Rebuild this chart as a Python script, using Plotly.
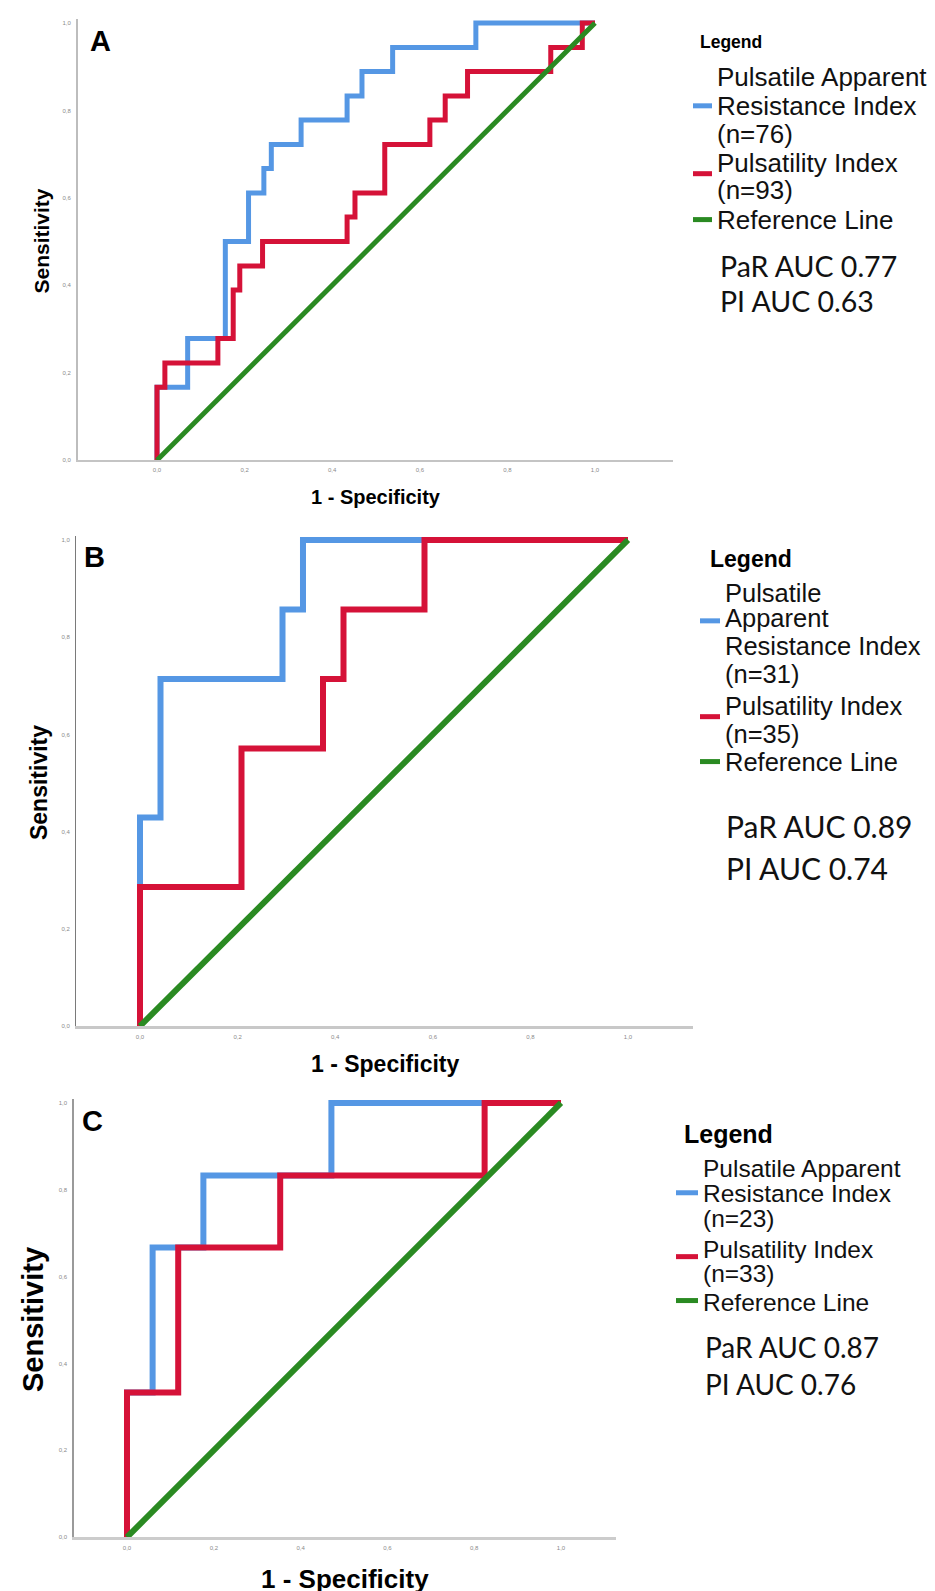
import plotly.graph_objects as go

W, H = 935, 1591

# ---------------- data ----------------
tick_vals = [0.0, 0.2, 0.4, 0.6, 0.8, 1.0]
tick_text = ["0,0", "0,2", "0,4", "0,6", "0,8", "1,0"]

# Panel A  (FPR at which each sensitivity jump happens, sensitivity after the jump)
a_par_fpr = [0.0, 0.0, 0.070, 0.156, 0.209, 0.244, 0.261, 0.329, 0.434, 0.468, 0.538, 0.728, 1.0]
a_par_tpr = [0.0, 0.167, 0.278, 0.500, 0.611, 0.667, 0.722, 0.778, 0.833, 0.889, 0.944, 1.0, 1.0]
a_pi_fpr = [0.0, 0.0, 0.018, 0.139, 0.174, 0.189, 0.241, 0.434, 0.452, 0.520, 0.623, 0.658, 0.709, 0.899, 0.971, 1.0]
a_pi_tpr = [0.0, 0.167, 0.222, 0.278, 0.389, 0.444, 0.500, 0.556, 0.611, 0.722, 0.778, 0.833, 0.889, 0.944, 1.0, 1.0]

# Panel B
b_par_fpr = [0.0, 0.0, 0.042, 0.292, 0.334, 1.0]
b_par_tpr = [0.0, 0.429, 0.714, 0.857, 1.0, 1.0]
b_pi_fpr = [0.0, 0.0, 0.208, 0.375, 0.417, 0.583, 1.0]
b_pi_tpr = [0.0, 0.286, 0.571, 0.714, 0.857, 1.0, 1.0]

# Panel C
c_par_fpr = [0.0, 0.0, 0.059, 0.176, 0.471, 1.0]
c_par_tpr = [0.0, 0.333, 0.667, 0.833, 1.0, 1.0]
c_pi_fpr = [0.0, 0.0, 0.118, 0.353, 0.824, 1.0]
c_pi_tpr = [0.0, 0.333, 0.667, 0.833, 1.0, 1.0]

ref_x = [0.0, 1.0]
ref_y = [0.0, 1.0]

panel_letters = ["A", "B", "C"]
par_labels = [
    ["Pulsatile Apparent", "Resistance Index", "(n=76)"],
    ["Pulsatile", "Apparent", "Resistance Index", "(n=31)"],
    ["Pulsatile Apparent", "Resistance Index", "(n=23)"],
]
pi_labels = [
    ["Pulsatility Index", "(n=93)"],
    ["Pulsatility Index", "(n=35)"],
    ["Pulsatility Index", "(n=33)"],
]
ref_label = "Reference Line"
par_auc = ["PaR AUC 0.77", "PaR AUC 0.89", "PaR AUC 0.87"]
pi_auc = ["PI AUC 0.63", "PI AUC 0.74", "PI AUC 0.76"]

curves = [
    (a_par_fpr, a_par_tpr, a_pi_fpr, a_pi_tpr),
    (b_par_fpr, b_par_tpr, b_pi_fpr, b_pi_tpr),
    (c_par_fpr, c_par_tpr, c_pi_fpr, c_pi_tpr),
]

# ---------------- styling / layout geometry (pixels) ----------------
BLUE = "#5597E4"
RED = "#D51238"
GREEN = "#2A8A22"
ARIAL = "Liberation Sans, Arial, sans-serif"
CALIBRI = "Lato, Carlito, Calibri, sans-serif"

geo = [
    # axis_left, x0, x1, axis_right, y_top(1.0), y_bottom(0.0)
    dict(al=70, x0=149, x1=587, ar=665, yt=15, yb=453, lw=5,
         ycol="#bdbdbd", ylw=2, xcol="#c4c4c4", xlw=2,
         letter=(92, 33, 29), title_y=490, title_size=20, sens_x=34, sens_size=21),
    dict(al=68, x0=132, x1=620, ar=685, yt=533, yb=1020, lw=6,
         ycol="#7a7a7a", ylw=1, xcol="#c8c8c8", xlw=2.5,
         letter=(86, 550, 29), title_y=1058, title_size=23, sens_x=31, sens_size=23),
    dict(al=66, x0=119, x1=553, ar=608, yt=1097, yb=1532, lw=6,
         ycol="#9a9a9a", ylw=1.5, xcol="#cccccc", xlw=2.5,
         letter=(84, 1115, 29), title_y=None, title_size=26, sens_x=25, sens_size=29),
]

legend_geo = [
    dict(leg=(690, 34, 17.5), sw=(685, 704), tx=707, fs=26,
         par_y=[69, 98, 126], par_sw=98,
         pi_y=[155, 182], pi_sw=166, ref_y=212, ref_sw=212,
         auc_x=710, auc_y=[258, 294], auc_fs=28.5),
    dict(leg=(700, 552, 23), sw=(692, 712), tx=715, fs=25.5,
         par_y=[586, 611, 639, 667], par_sw=614,
         pi_y=[699, 727], pi_sw=710, ref_y=755, ref_sw=755,
         auc_x=716, auc_y=[820, 862], auc_fs=30),
    dict(leg=(674, 1128, 25), sw=(668, 690), tx=693, fs=24.5,
         par_y=[1163, 1188, 1213], par_sw=1187,
         pi_y=[1244, 1268], pi_sw=1251, ref_y=1297, ref_sw=1295,
         auc_x=695, auc_y=[1342, 1379], auc_fs=28),
]


def px(x):
    return x / W


def py(y):
    return 1 - y / H


fig = go.Figure()
annotations = []
shapes = []
layout_axes = {}

for i, g in enumerate(geo):
    n = i + 1
    xa = "x" if n == 1 else f"x{n}"
    ya = "y" if n == 1 else f"y{n}"
    xkey = "xaxis" if n == 1 else f"xaxis{n}"
    ykey = "yaxis" if n == 1 else f"yaxis{n}"

    ux = g["x1"] - g["x0"]
    uy = g["yb"] - g["yt"]
    pad_top = 4
    x_range = [(g["al"] - g["x0"]) / ux, (g["ar"] - g["x0"]) / ux]
    y_range = [0.0, 1.0 + pad_top / uy]

    layout_axes[xkey] = dict(
        domain=[px(g["al"]), px(g["ar"])], range=x_range, anchor=ya,
        showline=True, linecolor=g["xcol"], linewidth=g["xlw"],
        showgrid=False, zeroline=False, ticks="",
        tickmode="array", tickvals=tick_vals, ticktext=tick_text,
        tickfont=dict(size=6, color="#8a8a8a", family=ARIAL),
        ticklabelstandoff=3, fixedrange=True,
    )
    layout_axes[ykey] = dict(
        domain=[py(g["yb"]), py(g["yt"] - pad_top)], range=y_range, anchor=xa,
        showline=True, linecolor=g["ycol"], linewidth=g["ylw"],
        showgrid=False, zeroline=False, ticks="",
        tickmode="array", tickvals=tick_vals, ticktext=tick_text,
        tickfont=dict(size=6, color="#8a8a8a", family=ARIAL),
        ticklabelstandoff=4, fixedrange=True,
    )

    par_x, par_y, pi_x, pi_y = curves[i]
    fig.add_trace(go.Scatter(x=par_x, y=par_y, mode="lines", xaxis=xa, yaxis=ya,
                             line=dict(color=BLUE, width=g["lw"], shape="hv"),
                             name="Pulsatile Apparent Resistance Index", showlegend=False))
    fig.add_trace(go.Scatter(x=pi_x, y=pi_y, mode="lines", xaxis=xa, yaxis=ya,
                             line=dict(color=RED, width=g["lw"], shape="hv"),
                             name="Pulsatility Index", showlegend=False))
    fig.add_trace(go.Scatter(x=ref_x, y=ref_y, mode="lines", xaxis=xa, yaxis=ya,
                             line=dict(color=GREEN, width=g["lw"]),
                             name="Reference Line", showlegend=False))

    # panel letter
    lx, ly, ls = g["letter"]
    annotations.append(dict(text=f"<b>{panel_letters[i]}</b>", x=px(lx), y=py(ly),
                            xref="paper", yref="paper", xanchor="center", yanchor="middle",
                            showarrow=False, font=dict(size=ls, color="black", family=ARIAL)))
    # axis titles
    if g["title_y"] is None:
        ty, tya = 0.0, "bottom"
    else:
        ty, tya = py(g["title_y"]), "middle"
    annotations.append(dict(text="<b>1 - Specificity</b>", x=px((g["al"] + g["ar"]) / 2),
                            y=ty, xref="paper", yref="paper",
                            xanchor="center", yanchor=tya, showarrow=False,
                            font=dict(size=g["title_size"], color="black", family=ARIAL)))
    annotations.append(dict(text="<b>Sensitivity</b>", x=px(g["sens_x"]),
                            y=py((g["yt"] + g["yb"]) / 2), xref="paper", yref="paper",
                            xanchor="center", yanchor="middle", showarrow=False, textangle=-90,
                            font=dict(size=g["sens_size"], color="black", family=ARIAL)))

    # legend block
    L = legend_geo[i]
    gx, gy, gs = L["leg"]
    annotations.append(dict(text="<b>Legend</b>", x=px(gx), y=py(gy), xref="paper", yref="paper",
                            xanchor="left", yanchor="middle", showarrow=False,
                            font=dict(size=gs, color="black", family=ARIAL)))
    for lines, ys in ((par_labels[i], L["par_y"]), (pi_labels[i], L["pi_y"]), ([ref_label], [L["ref_y"]])):
        for t, yy in zip(lines, ys):
            annotations.append(dict(text=t, x=px(L["tx"]), y=py(yy), xref="paper", yref="paper",
                                    xanchor="left", yanchor="middle", showarrow=False,
                                    font=dict(size=L["fs"], color="#111111", family=ARIAL)))
    for col, yy in ((BLUE, L["par_sw"]), (RED, L["pi_sw"]), (GREEN, L["ref_sw"])):
        shapes.append(dict(type="line", xref="paper", yref="paper",
                           x0=px(L["sw"][0]), x1=px(L["sw"][1]), y0=py(yy), y1=py(yy),
                           line=dict(color=col, width=5)))
    for t, yy in zip((par_auc[i], pi_auc[i]), L["auc_y"]):
        annotations.append(dict(text=t, x=px(L["auc_x"]), y=py(yy), xref="paper", yref="paper",
                                xanchor="left", yanchor="middle", showarrow=False,
                                font=dict(size=L["auc_fs"], color="#111111", family=CALIBRI)))

fig.update_layout(
    width=W, height=H,
    margin=dict(l=0, r=0, t=0, b=0),
    paper_bgcolor="white", plot_bgcolor="white",
    showlegend=False,
    annotations=annotations, shapes=shapes,
    **layout_axes,
)

fig.write_html("out.html")
